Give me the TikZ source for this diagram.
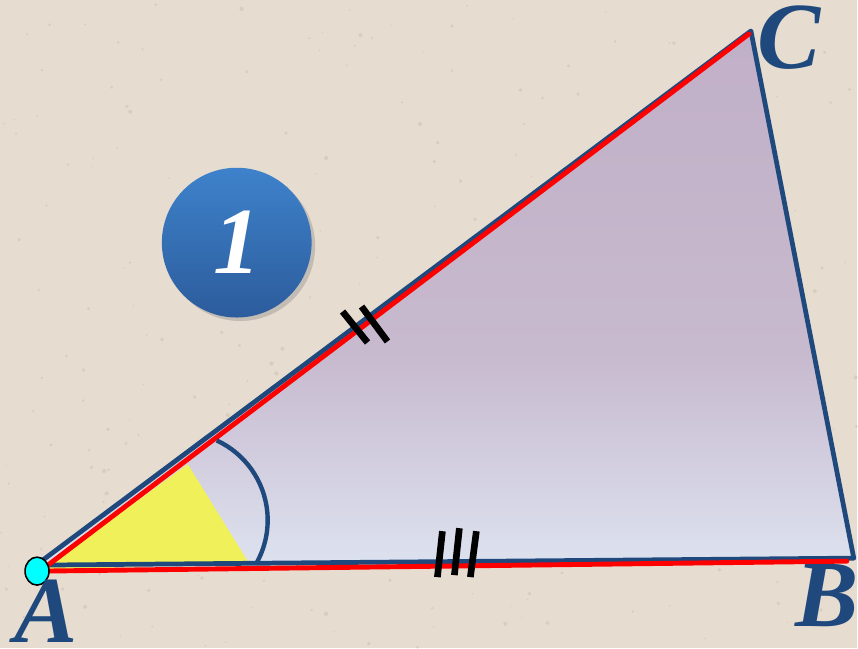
\documentclass[tikz,border=0pt]{standalone}
\usepackage{fontspec}
\setmainfont{Liberation Serif}
\usetikzlibrary{shadows, shapes.geometric}

\definecolor{paper}{HTML}{E6DDD0}
\definecolor{speck}{HTML}{B8AC9C}
\definecolor{edgeblue}{HTML}{1F497D}
\definecolor{topfill}{HTML}{C1B0C8}
\definecolor{midfill}{HTML}{C7B9CE}
\definecolor{lowfill}{HTML}{DDE2EF}
\definecolor{angleyellow}{HTML}{F0F05A}
\definecolor{pointcyan}{HTML}{00FFFF}
\definecolor{badgetop}{HTML}{3E82CB}
\definecolor{badgelow}{HTML}{2C5C9C}

\pgfdeclareverticalshading{triangleshade}{100bp}{color(0bp)=(lowfill); color(25bp)=(lowfill);
    color(45bp)=(midfill); color(75bp)=(topfill); color(100bp)=(topfill)}

\begin{document}
\begin{tikzpicture}[
        x=0.02cm, y=-0.02cm,
        side/.style={draw=edgeblue, line width=2.7pt, line join=round},
        redside/.style={draw=red, line width=2.8pt, line cap=round},
        tick/.style={draw=black, line width=3.8pt},
        vertex/.style={font=\fontsize{54}{54}\selectfont\bfseries\itshape, text=edgeblue, inner sep=0pt},
        badge/.style={circle, minimum size=150*0.02cm, inner sep=0pt, top color=badgetop, bottom color=badgelow,
            drop shadow={opacity=0.35, shadow xshift=2pt, shadow yshift=-2pt},
            font=\fontsize{54}{54}\selectfont\bfseries\itshape, text=white}
    ]
        % Background
        \fill[paper] (0,0) rectangle (858,649);
        \pgfmathsetseed{7}
        \foreach \k in {1,...,320} {
            \fill[speck, opacity=0.3] (rnd*858, rnd*649) circle (1.6*rnd+0.6);
        }
        \useasboundingbox (0,0) rectangle (858,649);

        % Vertices
        \coordinate (A) at (36,566);
        \coordinate (B) at (855,559);
        \coordinate (C) at (752,31);

        % Triangle
        \shade[shading=triangleshade] (A) -- (C) -- (B) -- cycle;
        \fill[angleyellow] (40,572) -- (188,465) -- (248,562) -- cycle;
        \draw[side] (A) -- (C) -- (B) -- cycle;
        \draw[redside] (40,572) -- (848,562);
        \draw[redside] (40,572) -- (750,34);

        % Angle arc
        \draw[edgeblue, line width=2.5pt] (180,521) ++(-65.2:88) arc (-65.2:30:88);

        % Equal-side marks
        \draw[tick] (343,312) -- (368,343);
        \draw[tick] (362,307) -- (388,342);
        \draw[tick] (443,532) -- (438,578);
        \draw[tick] (460,529) -- (455,576);
        \draw[tick] (477,532) -- (471,578);

        % Point A
        \node (dotA) [ellipse, draw=black, line width=0.9pt, fill=pointcyan, minimum width=24*0.02cm, minimum height=28*0.02cm, inner sep=0pt] at (37,572) {};

        % Labels
        \node (labA) [vertex] at (46,612) {A};
        \node (labB) [vertex] at (828,597) {B};
        \node (labC) [vertex] at (790,38) {C};
        \node (num) [badge] at (237,243) {1};
\end{tikzpicture}
\end{document}
